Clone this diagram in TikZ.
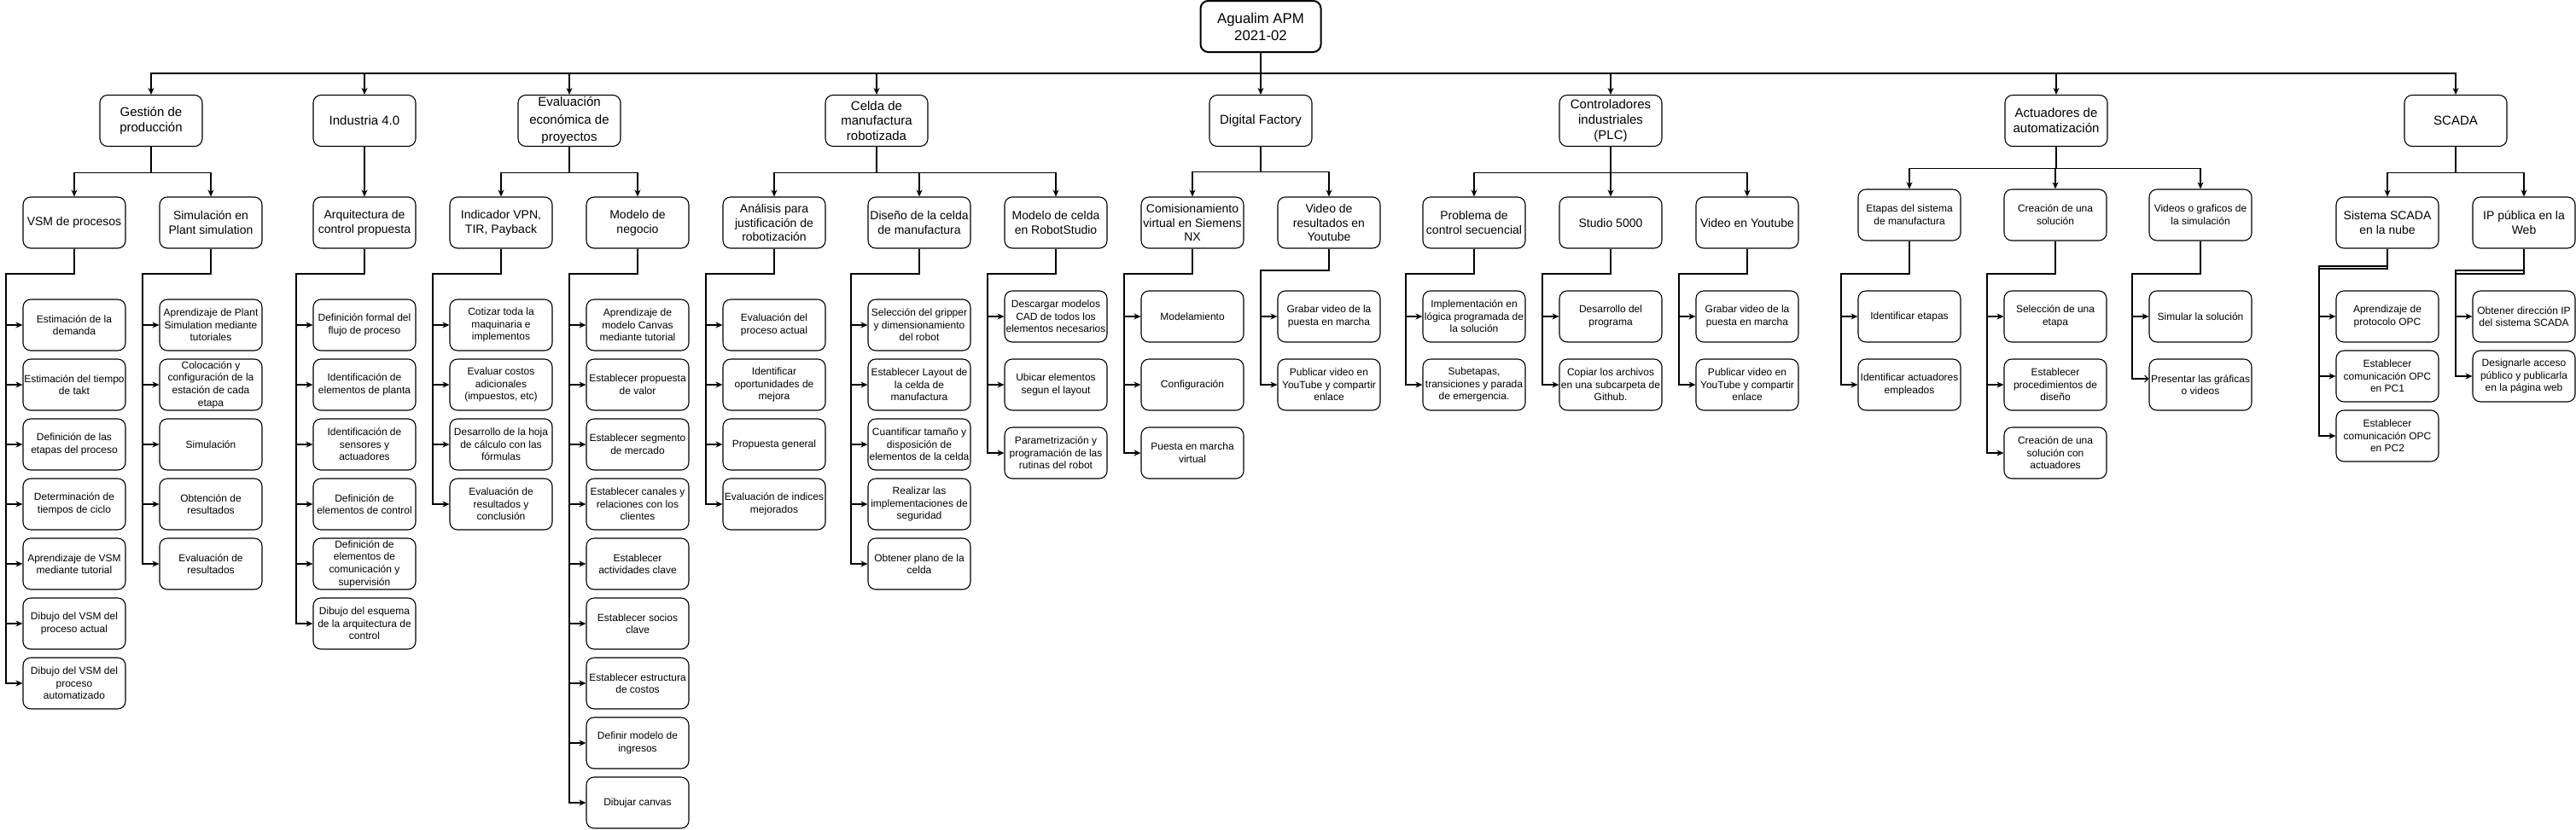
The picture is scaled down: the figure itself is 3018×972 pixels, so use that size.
\documentclass[tikz,border=0pt]{standalone}
\usepackage{fontspec}
\setmainfont{Liberation Sans}
\usetikzlibrary{arrows.meta}
\tikzset{
  box/.style={draw, line width=1.1pt, rounded corners=9pt, minimum width=120pt, minimum height=60pt, inner sep=0pt, align=center, fill=white},
  titlebox/.style={box, line width=2pt, minimum width=141pt, font=\fontsize{16.8}{20}\selectfont},
  lvlone/.style={box, font=\fontsize{15}{17.8}\selectfont},
  lvltwo/.style={box, font=\fontsize{14}{16.8}\selectfont},
  lvltwos/.style={box, font=\fontsize{12}{14.8}\selectfont},
  leaf/.style={box, font=\fontsize{12}{14.6}\selectfont},
  arr/.style={line width=1.1pt, -{Stealth[length=8pt,width=7pt,inset=2.5pt]}},
  arro/.style={line width=1.1pt, -{Straight Barb[length=4pt,width=8pt]}},
}
\begin{document}
\begin{tikzpicture}[x=1pt,y=-1pt]
\useasboundingbox[fill=white] (0,0) rectangle (3018,972);
\coordinate (bus) at (0,86);
% title
\node[titlebox] (title) at (1477,31) {Agualim APM\\2021-02};
% level 1
\node[lvlone] (g1) at (177,141.5) {Gestión de\\producción};
\node[lvlone] (g2) at (427,141.5) {Industria 4.0};
\node[lvlone, font=\fontsize{15}{20.5}\selectfont] (g3) at (667,141.5) {Evaluación\\económica de\\proyectos};
\node[lvlone] (g4) at (1027,141.5) {Celda de\\manufactura\\robotizada};
\node[lvlone] (g5) at (1477,141.5) {Digital Factory};
\node[lvlone] (g6) at (1887,141.5) {Controladores\\industriales\\(PLC)};
\node[lvlone] (g7) at (2409,141.5) {Actuadores de\\automatización};
\node[lvlone] (g8) at (2877,141.5) {SCADA};
\foreach \g in {g1,g2,g3,g4,g5,g6,g7,g8}
  \draw[arr] (title.south) -- (title.south |- bus) -| (\g.north);
% level 2
\node[lvltwo] (vsm) at (87,261) {VSM de procesos};
\node[lvltwo] (sim) at (247,261) {Simulación en\\Plant simulation};
\node[lvltwo] (arq) at (427,261) {Arquitectura de\\control propuesta};
\node[lvltwo] (ind) at (587,261) {Indicador VPN,\\TIR, Payback};
\node[lvltwo] (mod) at (747,261) {Modelo de\\negocio};
\node[lvltwo] (ana) at (907,261) {Análisis para\\justificación de\\robotización};
\node[lvltwo] (dis) at (1077,261) {Diseño de la celda\\de manufactura};
\node[lvltwo] (rst) at (1237,261) {Modelo de celda\\en RobotStudio};
\node[lvltwo] (com) at (1397,261) {Comisionamiento\\virtual en Siemens\\NX};
\node[lvltwo] (vre) at (1557,261) {Video de\\resultados en\\Youtube};
\node[lvltwo] (pro) at (1727,261) {Problema de\\control secuencial};
\node[lvltwo] (stu) at (1887,261) {Studio 5000};
\node[lvltwo] (vyt) at (2047,261) {Video en Youtube};
\node[lvltwos] (eta) at (2237,252) {Etapas del sistema\\de manufactura};
\node[lvltwos] (cre) at (2408,252) {Creación de una\\solución};
\node[lvltwos] (vgs) at (2578,252) {Videos o graficos de\\la simulación};
\node[lvltwo] (sis) at (2797,261) {Sistema SCADA\\en la nube};
\node[lvltwo] (ipw) at (2957,261) {IP pública en la\\Web};
\foreach \c in {vsm,sim} \draw[arr] (g1.south) -- ++(0,30) -| (\c.north);
\draw[arr] (g2) -- (arq);
\foreach \c in {ind,mod} \draw[arr] (g3.south) -- ++(0,30) -| (\c.north);
\foreach \c in {ana,dis,rst} \draw[arr] (g4.south) -- ++(0,30.5) -| (\c.north);
\foreach \c in {com,vre} \draw[arr] (g5.south) -- ++(0,29.5) -| (\c.north);
\foreach \c in {pro,stu,vyt} \draw[arr] (g6.south) -- ++(0,30.5) -| (\c.north);
\foreach \c in {eta,cre,vgs} \draw[arr] (g7.south) -- ++(0,25.5) -| (\c.north);
\foreach \c in {sis,ipw} \draw[arr] (g8.south) -- ++(0,30.5) -| (\c.north);
% trunk corners
\coordinate (tvsm) at (7,321);
\coordinate (tsim) at (167,321);
\coordinate (tarq) at (347,321);
\coordinate (tind) at (507,321);
\coordinate (tmod) at (667,321);
\coordinate (tana) at (827,321);
\coordinate (tdis) at (997,321);
\coordinate (trst) at (1157,321);
\coordinate (tcom) at (1317,321);
\coordinate (tvre) at (1477,317);
\coordinate (tpro) at (1647,321);
\coordinate (tstu) at (1807,321);
\coordinate (tvyt) at (1967,321);
\coordinate (teta) at (2157,321);
\coordinate (tcre) at (2328,321);
\coordinate (tvgs) at (2498,321);
\coordinate (tsisa) at (2717,312);
\coordinate (tsisb) at (2717,315);
\coordinate (tipwa) at (2877,317);
\coordinate (tipwb) at (2877,321);
% leaves: VSM
\node[leaf] (a1) at (87,381) {Estimación de la\\demanda};
\node[leaf] (a2) at (87,451) {Estimación del tiempo\\de takt};
\node[leaf] (a3) at (87,521) {Definición de las\\etapas del proceso};
\node[leaf] (a4) at (87,591) {Determinación de\\tiempos de ciclo};
\node[leaf] (a5) at (87,661) {Aprendizaje de VSM\\mediante tutorial};
\node[leaf] (a6) at (87,731) {Dibujo del VSM del\\proceso actual};
\node[leaf] (a7) at (87,801) {Dibujo del VSM del\\proceso\\automatizado};
\foreach \n in {a1,a2,a3,a4,a5,a6,a7} \draw[arr] (vsm.south) |- (tvsm) |- (\n.west);
% Simulacion
\node[leaf] (b1) at (247,381) {Aprendizaje de Plant\\Simulation mediante\\tutoriales};
\node[leaf] (b2) at (247,451) {Colocación y\\configuración de la\\estación de cada\\etapa};
\node[leaf] (b3) at (247,521) {Simulación};
\node[leaf] (b4) at (247,591) {Obtención de\\resultados};
\node[leaf] (b5) at (247,661) {Evaluación de\\resultados};
\foreach \n in {b1,b2,b3,b4,b5} \draw[arr] (sim.south) |- (tsim) |- (\n.west);
% Arquitectura
\node[leaf] (c1) at (427,381) {Definición formal del\\flujo de proceso};
\node[leaf] (c2) at (427,451) {Identificación de\\elementos de planta};
\node[leaf] (c3) at (427,521) {Identificación de\\sensores y\\actuadores};
\node[leaf] (c4) at (427,591) {Definición de\\elementos de control};
\node[leaf] (c5) at (427,661) {Definición de\\elementos de\\comunicación y\\supervisión};
\node[leaf] (c6) at (427,731) {Dibujo del esquema\\de la arquitectura de\\control};
\foreach \n in {c1,c2,c3,c4,c5,c6} \draw[arr] (arq.south) |- (tarq) |- (\n.west);
% Indicador
\node[leaf] (d1) at (587,381) {Cotizar toda la\\maquinaria e\\implementos};
\node[leaf] (d2) at (587,451) {Evaluar costos\\adicionales\\(impuestos, etc)};
\node[leaf] (d3) at (587,521) {Desarrollo de la hoja\\de cálculo con las\\fórmulas};
\node[leaf] (d4) at (587,591) {Evaluación de\\resultados y\\conclusión};
\foreach \n in {d1,d2,d3,d4} \draw[arr] (ind.south) |- (tind) |- (\n.west);
% Modelo de negocio
\node[leaf] (e1) at (747,381) {Aprendizaje de\\modelo Canvas\\mediante tutorial};
\node[leaf] (e2) at (747,451) {Establecer propuesta\\de valor};
\node[leaf] (e3) at (747,521) {Establecer segmento\\de mercado};
\node[leaf] (e4) at (747,591) {Establecer canales y\\relaciones con los\\clientes};
\node[leaf] (e5) at (747,661) {Establecer\\actividades clave};
\node[leaf] (e6) at (747,731) {Establecer socios\\clave};
\node[leaf] (e7) at (747,801) {Establecer estructura\\de costos};
\node[leaf] (e8) at (747,871) {Definir modelo de\\ingresos};
\node[leaf] (e9) at (747,941) {Dibujar canvas};
\foreach \n in {e1,e2,e3,e4,e5,e6,e7,e8,e9} \draw[arr] (mod.south) |- (tmod) |- (\n.west);
% Analisis
\node[leaf] (f1) at (907,381) {Evaluación del\\proceso actual};
\node[leaf] (f2) at (907,451) {Identificar\\oportunidades de\\mejora};
\node[leaf] (f3) at (907,521) {Propuesta general};
\node[leaf] (f4) at (907,591) {Evaluación de indices\\mejorados};
\foreach \n in {f1,f2,f3,f4} \draw[arr] (ana.south) |- (tana) |- (\n.west);
% Diseno
\node[leaf] (h1) at (1077,381) {Selección del gripper\\y dimensionamiento\\del robot};
\node[leaf] (h2) at (1077,451) {Establecer Layout de\\la celda de\\manufactura};
\node[leaf] (h3) at (1077,521) {Cuantificar tamaño y\\disposición de\\elementos de la celda};
\node[leaf] (h4) at (1077,591) {Realizar las\\implementaciones de\\seguridad};
\node[leaf] (h5) at (1077,661) {Obtener plano de la\\celda};
\foreach \n in {h1,h2,h3,h4,h5} \draw[arr] (dis.south) |- (tdis) |- (\n.west);
% RobotStudio
\node[leaf] (k1) at (1237,371) {Descargar modelos\\CAD de todos los\\elementos necesarios};
\node[leaf] (k2) at (1237,451) {Ubicar elementos\\segun el layout};
\node[leaf] (k3) at (1237,531) {Parametrización y\\programación de las\\rutinas del robot};
\foreach \n in {k1,k2,k3} \draw[arr] (rst.south) |- (trst) |- (\n.west);
% Comisionamiento
\node[leaf] (m1) at (1397,371) {Modelamiento};
\node[leaf] (m2) at (1397,451) {Configuración};
\node[leaf] (m3) at (1397,531) {Puesta en marcha\\virtual};
\foreach \n in {m1,m2,m3} \draw[arr] (com.south) |- (tcom) |- (\n.west);
% Video resultados
\node[leaf] (n1) at (1557,371) {Grabar video de la\\puesta en marcha};
\node[leaf] (n2) at (1557,451) {Publicar video en\\YouTube y compartir\\enlace};
\foreach \n in {n1,n2} \draw[arr] (vre.south) |- (tvre) |- (\n.west);
% Problema
\node[leaf] (p1) at (1727,371) {Implementación en\\lógica programada de\\la solución};
\node[leaf] (p2) at (1727,451) {Subetapas,\\transiciones y parada\\de emergencia.};
\foreach \n in {p1,p2} \draw[arr] (pro.south) |- (tpro) |- (\n.west);
% Studio
\node[leaf] (q1) at (1887,371) {Desarrollo del\\programa};
\node[leaf] (q2) at (1887,451) {Copiar los archivos\\en una subcarpeta de\\Github.};
\foreach \n in {q1,q2} \draw[arr] (stu.south) |- (tstu) |- (\n.west);
% Video Youtube
\node[leaf] (r1) at (2047,371) {Grabar video de la\\puesta en marcha};
\node[leaf] (r2) at (2047,451) {Publicar video en\\YouTube y compartir\\enlace};
\foreach \n in {r1,r2} \draw[arr] (vyt.south) |- (tvyt) |- (\n.west);
% Etapas
\node[leaf] (s1) at (2237,371) {Identificar etapas};
\node[leaf] (s2) at (2237,451) {Identificar actuadores\\empleados};
\foreach \n in {s1,s2} \draw[arr] (eta.south) |- (teta) |- (\n.west);
% Creacion
\node[leaf] (t1) at (2408,371) {Selección de una\\etapa};
\node[leaf] (t2) at (2408,451) {Establecer\\procedimientos de\\diseño};
\node[leaf] (t3) at (2408,531) {Creación de una\\solución con\\actuadores};
\foreach \n in {t1,t2,t3} \draw[arr] (cre.south) |- (tcre) |- (\n.west);
% Videos
\node[leaf] (u1) at (2578,371) {Simular la solución};
\node[leaf] (u2) at (2578,451) {Presentar las gráficas\\o videos};
\draw[arr] (vgs.south) |- (tvgs) |- (u1.west);
\draw[arro] (vgs.south) |- (tvgs) |- ([yshift=7pt]u2.west);
% Sistema SCADA
\node[leaf] (v1) at (2797,371) {Aprendizaje de\\protocolo OPC};
\node[leaf] (v2) at (2797,441) {Establecer\\comunicación OPC\\en PC1};
\node[leaf] (v3) at (2797,511) {Establecer\\comunicación OPC\\en PC2};
\draw[arr] (sis.south) |- (tsisa) |- (v1.west);
\foreach \n in {v2,v3} \draw[arr] (sis.south) |- (tsisb) |- (\n.west);
% IP
\node[leaf] (w1) at (2957,371) {Obtener dirección IP\\del sistema SCADA};
\node[leaf] (w2) at (2957,441) {Designarle acceso\\público y publicarla\\en la página web};
\draw[arr] (ipw.south) |- (tipwa) |- (w1.west);
\draw[arr] (ipw.south) |- (tipwb) |- (w2.west);
\end{tikzpicture}
\end{document}
